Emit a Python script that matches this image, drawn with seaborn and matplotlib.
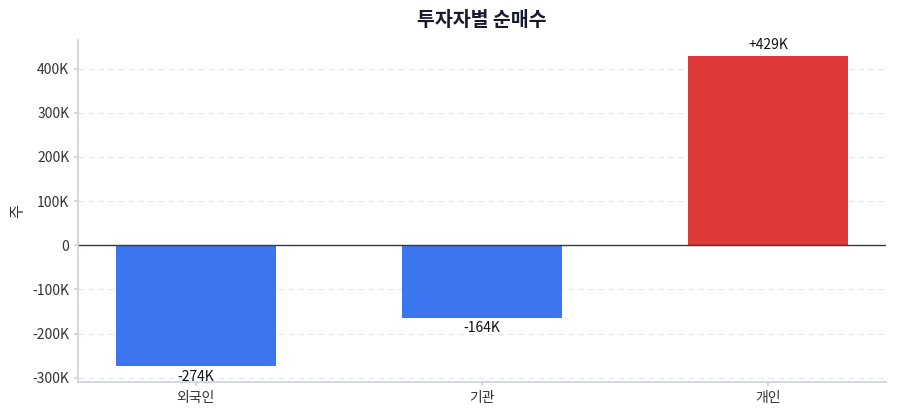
import matplotlib
matplotlib.use("Agg")
import matplotlib.pyplot as plt
import seaborn as sns
import pandas as pd
from matplotlib.ticker import FuncFormatter

categories = ["외국인", "기관", "개인"]
values = [-274000, -164000, 429000]
labels = ["-274K", "-164K", "+429K"]
colors = ["#3b76f0", "#3b76f0", "#df3a3a"]

sns.set_theme(style="white")
plt.rcParams['font.family'] = ['Noto Sans CJK KR', 'DejaVu Sans']

df = pd.DataFrame({"cat": categories, "val": values})
fig = plt.figure(figsize=(9, 4.2), dpi=100)
ax = fig.add_axes([0.087, 0.09, 0.897, 0.815])
sns.barplot(data=df, x="cat", y="val", hue="cat", palette=colors, legend=False,
            width=0.56, ax=ax, saturation=1, linewidth=0)
ax.set_xlim(-0.41, 2.41)
ax.set_ylim(-310000, 465000)
ax.set_yticks(range(-300000, 400001, 100000))
ax.yaxis.set_major_formatter(FuncFormatter(lambda v, p: "0" if v == 0 else f"{int(v/1000)}K"))
ax.grid(axis="y", color="#e3e6ee", linestyle=(0, (5, 4)), linewidth=0.8)
ax.set_axisbelow(True)
ax.axhline(0, color="#333a48", linewidth=1)
for s in ["top", "right"]:
    ax.spines[s].set_visible(False)
for s in ["left", "bottom"]:
    ax.spines[s].set_color("#cfd3dd")
ax.tick_params(axis="both", labelsize=10, colors="#333333", length=3, left=True, bottom=True)
ax.tick_params(axis="both", color="#cfd3dd")
ax.set_xlabel("")
ax.set_ylabel("주", fontsize=11, color="#333333")
for i, (v, l) in enumerate(zip(values, labels)):
    off = 8000 if v > 0 else -8000
    ax.text(i, v + off, l, ha="center", va="bottom" if v > 0 else "top", fontsize=10, color="#111111")
ax.set_title("투자자별 순매수", fontsize=14, fontweight="bold", color="#1a1a2e", pad=10)
fig.savefig("out.png", dpi=100)
